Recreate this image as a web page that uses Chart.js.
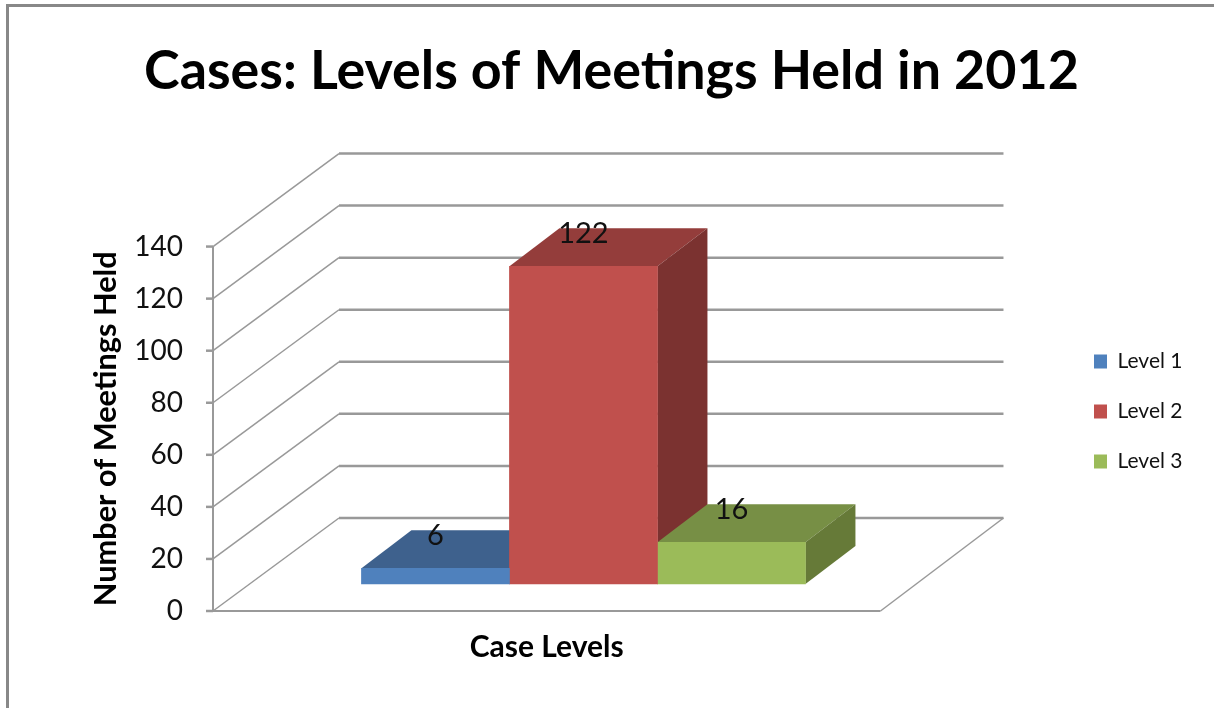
<!DOCTYPE html>
<html>
<head>
<meta charset="utf-8">
<title>Cases: Levels of Meetings Held in 2012</title>
<script src="https://cdn.jsdelivr.net/npm/chart.js@4"></script>
<style>
  html, body { margin: 0; padding: 0; background: #fff; overflow: hidden; }
  canvas { display: block; }
</style>
</head>
<body>
<canvas id="chart" width="1214" height="708"></canvas>
<script>
const levels = ["Level 1", "Level 2", "Level 3"];
const meetings = [6, 122, 16];
const frontColors = ["#4F81BD", "#C0504D", "#9BBB59"];
const topColors = ["#3E618D", "#943D3B", "#778F45"];
const sideColors = ["#35527A", "#7B3230", "#667A38"];
const yTicks = [0, 20, 40, 60, 80, 100, 120, 140];

// depth of the box (walls) and of the bars, in pixels
const wallDx = 126, wallDy = 93;
const barDx = 50, barDy = 38;
const gridColor = "#999999";

const fontName = "Lato, 'Open Sans', sans-serif";

const box3d = {
  id: "box3d",
  afterLayout(chart) {
    // title is centred on the whole frame, legend sits far right
    chart.titleBlock.left = 9;
    chart.titleBlock.right = 1214;
    const legend = chart.legend;
    const pad = legend.options.labels.padding;
    legend.left = 1094 - pad;
    legend.right = chart.width;
    legend.top = 351 - pad;
    legend.bottom = 351 - pad + 220;
  },
  beforeDraw(chart) {
    const ctx = chart.ctx;
    ctx.save();
    ctx.fillStyle = "#ffffff";
    ctx.fillRect(0, 0, chart.width, chart.height);
    ctx.strokeStyle = "#888888";
    ctx.lineWidth = 3;
    ctx.beginPath();
    ctx.moveTo(7.5, chart.height);
    ctx.lineTo(7.5, 5.5);
    ctx.lineTo(chart.width, 5.5);
    ctx.stroke();
    ctx.restore();
  },
  beforeDatasetsDraw(chart) {
    const ctx = chart.ctx;
    const area = chart.chartArea;
    const y = chart.scales.y;
    ctx.save();

    // walls
    ctx.strokeStyle = gridColor;
    ctx.lineWidth = 1.5;
    yTicks.forEach((v) => {
      const py = y.getPixelForValue(v);
      ctx.beginPath();
      ctx.moveTo(area.left, py);
      ctx.lineTo(area.left + wallDx, py - wallDy);
      ctx.stroke();
    });
    ctx.lineWidth = 2.5;
    yTicks.forEach((v) => {
      const py = y.getPixelForValue(v);
      ctx.beginPath();
      ctx.moveTo(area.left + wallDx, py - wallDy);
      ctx.lineTo(area.right + wallDx - 3, py - wallDy);
      ctx.stroke();
      // tick
      ctx.beginPath();
      ctx.moveTo(area.left - 7, py);
      ctx.lineTo(area.left, py);
      ctx.stroke();
    });

    // axis and floor
    const bottom = y.getPixelForValue(0);
    ctx.lineWidth = 2;
    ctx.beginPath();
    ctx.moveTo(area.left, y.getPixelForValue(140));
    ctx.lineTo(area.left, bottom);
    ctx.lineTo(area.right, bottom);
    ctx.stroke();
    ctx.lineWidth = 1.5;
    ctx.beginPath();
    ctx.moveTo(area.right, bottom);
    ctx.lineTo(area.right + wallDx - 3, bottom - wallDy);
    ctx.stroke();

    // top and side of each bar, left to right
    chart.data.datasets.forEach((ds, i) => {
      const bar = chart.getDatasetMeta(i).data[0];
      const l = bar.x - bar.width / 2, r = bar.x + bar.width / 2;
      ctx.fillStyle = topColors[i];
      ctx.beginPath();
      ctx.moveTo(l, bar.y);
      ctx.lineTo(l + barDx, bar.y - barDy);
      ctx.lineTo(r + barDx, bar.y - barDy);
      ctx.lineTo(r, bar.y);
      ctx.closePath();
      ctx.fill();
      ctx.fillStyle = sideColors[i];
      ctx.beginPath();
      ctx.moveTo(r, bar.y);
      ctx.lineTo(r + barDx, bar.y - barDy);
      ctx.lineTo(r + barDx, bar.base - barDy);
      ctx.lineTo(r, bar.base);
      ctx.closePath();
      ctx.fill();
    });
    ctx.restore();
  },
  afterDatasetsDraw(chart) {
    const ctx = chart.ctx;
    ctx.save();
    ctx.fillStyle = "#111111";
    ctx.font = "29px " + fontName;
    ctx.textAlign = "center";
    ctx.textBaseline = "middle";
    chart.data.datasets.forEach((ds, i) => {
      const bar = chart.getDatasetMeta(i).data[0];
      ctx.fillText(String(meetings[i]), bar.x, bar.y - 33);
    });
    ctx.restore();
  },
};

new Chart(document.getElementById("chart"), {
  type: "bar",
  data: {
    labels: [""],
    datasets: levels.map((name, i) => ({
      label: name,
      data: [{ x: 0, y: meetings[i] }],
      xAxisID: "x2",
      yAxisID: "y2",
      backgroundColor: frontColors[i],
      borderWidth: 0,
      barThickness: 148,
    })),
  },
  options: {
    responsive: false,
    animation: false,
    layout: { padding: { left: 0, right: 206, top: 0, bottom: 43 } },
    plugins: {
      title: {
        display: true,
        text: "Cases: Levels of Meetings Held in 2012",
        color: "#000000",
        font: { family: fontName, size: 53.8, weight: "bold" },
        padding: { top: 39, bottom: 143 },
      },
      legend: {
        position: "right",
        align: "start",
        labels: {
          color: "#111111",
          font: { family: fontName, size: 21 },
          boxWidth: 13,
          boxHeight: 14,
          padding: 29,
        },
      },
      tooltip: { enabled: false },
    },
    scales: {
      x: {
        type: "category",
        position: "bottom",
        grid: { display: false },
        border: { display: false },
        ticks: { display: false },
        title: {
          display: true,
          text: "Case Levels",
          color: "#000000",
          font: { family: fontName, size: 30, weight: "bold" },
          padding: { top: 19, bottom: 0 },
        },
        afterFit(scale) { scale.height = 54; },
      },
      y: {
        position: "left",
        min: 0,
        max: 140,
        grid: { display: false, drawTicks: false },
        border: { display: false },
        ticks: {
          stepSize: 20,
          color: "#111111",
          font: { family: fontName, size: 28 },
          padding: 30,
        },
        title: {
          display: true,
          text: "Number of Meetings Held",
          color: "#000000",
          font: { family: fontName, size: 30.7, weight: "bold" },
          padding: { top: 88, bottom: 0 },
        },
        afterFit(scale) { scale.width = 213; },
      },
      // bars stand on a plane set back from the front of the floor
      x2: { type: "linear", display: false, min: -0.566, max: 0.434 },
      y2: { type: "linear", display: false, min: -10.4, max: 129.6 },
    },
  },
  plugins: [box3d],
});
</script>
</body>
</html>
